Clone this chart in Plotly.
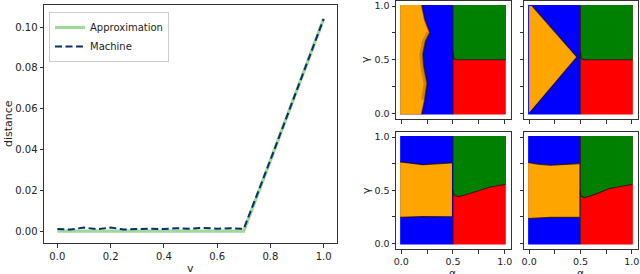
import plotly.graph_objects as go

# ---------------- left chart data ----------------
v_vals = [0.0, 0.05, 0.1, 0.15, 0.2, 0.25, 0.3, 0.35, 0.4, 0.45, 0.5, 0.55, 0.6, 0.65, 0.7,
          0.75, 0.8, 0.85, 0.9, 0.95, 1.0]
approx_vals = [0.0, 0.0, 0.0, 0.0, 0.0, 0.0, 0.0, 0.0, 0.0, 0.0, 0.0, 0.0, 0.0, 0.0, 0.0,
               0.0173, 0.0347, 0.052, 0.0693, 0.0867, 0.104]
machine_vals = [0.0010, 0.0008, 0.0018, 0.0009, 0.0018, 0.0008, 0.0010, 0.0012, 0.0010, 0.0014,
                0.0012, 0.0016, 0.0012, 0.0014, 0.0011, 0.0175, 0.0348, 0.0521, 0.0694, 0.0868, 0.1040]
left_xticks = [0.0, 0.2, 0.4, 0.6, 0.8, 1.0]
left_yticks = [0.0, 0.02, 0.04, 0.06, 0.08, 0.10]

# ---------------- decision-region data ----------------
lo, hi = -0.01, 1.01          # extent of sampled points
split_a = 0.5                 # alpha split between left/right classes
region_ticks = [0.0, 0.25, 0.5, 0.75, 1.0]
region_ticktext = ["0.0", "", "0.5", "", "1.0"]

# panel 1: orange / blue boundary (x as function of y, top to bottom)
p1_ob_y = [1.01, 1.0, 0.875, 0.75, 0.67, 0.55, 0.44, 0.28, 0.125, 0.0, -0.01]
p1_ob_x = [0.20, 0.20, 0.227, 0.276, 0.234, 0.21, 0.218, 0.25, 0.227, 0.20, 0.198]
# panels 1,2: green / red boundary
p12_gr_x = [0.5, 0.5, 0.506, 0.52, 0.54, 1.01]
p12_gr_y = [0.57, 0.54, 0.515, 0.503, 0.50, 0.50]
# panel 2: orange triangle
p2_tri_x = [0.0, 0.03, 0.464, 0.0]
p2_tri_y = [1.0, 1.0, 0.525, 0.0]
# panel 3: orange band + green/red boundary
p3_top_x = [lo, 0.08, 0.21, 0.37, 0.49]
p3_top_y = [0.766, 0.756, 0.74, 0.75, 0.756]
p3_bot_x = [lo, 0.21, 0.49]
p3_bot_y = [0.245, 0.252, 0.25]
p3_gr_x = [0.5, 0.5, 0.52, 0.55, 0.63, 0.76, 0.86, 1.01]
p3_gr_y = [0.5, 0.475, 0.45, 0.44, 0.46, 0.50, 0.53, 0.555]
# panel 4
p4_top_x = [lo, 0.08, 0.21, 0.37, 0.49]
p4_top_y = [0.76, 0.745, 0.735, 0.74, 0.75]
p4_bot_x = [lo, 0.21, 0.49]
p4_bot_y = [0.234, 0.244, 0.244]
p4_gr_x = [0.5, 0.5, 0.535, 0.58, 0.665, 0.78, 0.86, 1.01]
p4_gr_y = [0.5, 0.45, 0.43, 0.44, 0.47, 0.515, 0.53, 0.555]

C_OR, C_BL, C_GR, C_RD = "#ffa500", "#0000ff", "#008000", "#ff0000"
EDGE = "rgba(25,12,0,0.75)"

fig = go.Figure()

fig.add_trace(go.Scatter(x=v_vals, y=approx_vals, mode="lines", name="Approximation",
                         line=dict(color="#a1d99b", width=3.2), xaxis="x", yaxis="y"))
fig.add_trace(go.Scatter(x=v_vals, y=machine_vals, mode="lines", name="Machine",
                         line=dict(color="#08306b", width=2, dash="7px,3.5px"), xaxis="x", yaxis="y"))


def poly(xs, ys, color, ax):
    fig.add_trace(go.Scatter(x=xs, y=ys, mode="lines", fill="toself", fillcolor=color,
                             line=dict(width=0, color=color), hoverinfo="skip",
                             showlegend=False, xaxis="x" + ax, yaxis="y" + ax))


def edge(xs, ys, ax, color=EDGE, width=1.1):
    fig.add_trace(go.Scatter(x=xs, y=ys, mode="lines", line=dict(color=color, width=width),
                             hoverinfo="skip", showlegend=False, xaxis="x" + ax, yaxis="y" + ax))


def right_half(ax, gx, gy):
    poly([split_a, hi, hi, split_a, split_a], [lo, lo, hi, hi, lo], C_RD, ax)
    poly(gx + [hi, split_a], gy + [hi, hi], C_GR, ax)
    edge(gx, gy, ax)
    edge([split_a, split_a], [lo, hi], ax, width=0.9)


# panel 1
ax = "2"
poly([lo, split_a, split_a, lo, lo], [lo, lo, hi, hi, lo], C_BL, ax)
poly([lo] + p1_ob_x + [lo], [hi] + p1_ob_y + [lo], C_OR, ax)
edge([x - 0.012 for x in p1_ob_x[3:9]], p1_ob_y[3:9], ax, color="rgba(70,35,0,0.25)", width=4.5)
edge(p1_ob_x, p1_ob_y, ax, color="rgba(25,12,0,0.55)", width=1.6)
right_half(ax, p12_gr_x, p12_gr_y)

# panel 2
ax = "3"
poly([lo, split_a, split_a, lo, lo], [lo, lo, hi, hi, lo], C_BL, ax)
poly(p2_tri_x + [p2_tri_x[0]], p2_tri_y + [p2_tri_y[0]], C_OR, ax)
edge(p2_tri_x[1:], p2_tri_y[1:], ax)
right_half(ax, p12_gr_x, p12_gr_y)

# panels 3, 4
for ax, tx, ty, bx, by, gx, gy in [("4", p3_top_x, p3_top_y, p3_bot_x, p3_bot_y, p3_gr_x, p3_gr_y),
                                   ("5", p4_top_x, p4_top_y, p4_bot_x, p4_bot_y, p4_gr_x, p4_gr_y)]:
    poly([lo, split_a, split_a, lo, lo], [lo, lo, hi, hi, lo], C_BL, ax)
    poly(tx + bx[::-1], ty + by[::-1], C_OR, ax)
    edge(tx, ty, ax)
    edge(bx, by, ax)
    right_half(ax, gx, gy)

W, H = 640, 274
frame = dict(showline=True, mirror=True, linecolor="#333", linewidth=1, showgrid=False,
             zeroline=False, ticks="outside", ticklen=3.5, tickcolor="#333", automargin=False,
             tickfont=dict(family="DejaVu Sans", size=10, color="#222"))

lay = dict(
    width=W, height=H, margin=dict(l=0, r=0, t=0, b=0, autoexpand=False),
    paper_bgcolor="white", plot_bgcolor="white",
    font=dict(family="DejaVu Sans", size=10, color="#222"),
    showlegend=True,
    legend=dict(x=49 / W, y=1 - 12 / H, xanchor="left", yanchor="top", bgcolor="white",
                bordercolor="#cccccc", borderwidth=1, font=dict(size=10),
                tracegroupgap=0, itemwidth=30),
    xaxis=dict(frame, domain=[44 / W, 337 / W], range=[-0.05, 1.05], tickvals=left_xticks,
               tickformat=".1f", anchor="y"),
    yaxis=dict(frame, domain=[1 - 243 / H, 1 - 5 / H], range=[-0.0058, 0.1108],
               tickvals=left_yticks, tickformat=".2f", anchor="x"),
)

xd = {"L": [396 / W, 511 / W], "R": [524 / W, 638 / W]}
yd = {"T": [1 - 119 / H, 1 - 1 / H], "B": [1 - 249 / H, 1 - 132 / H]}
for i, (col, row) in zip([2, 3, 4, 5], [("L", "T"), ("R", "T"), ("L", "B"), ("R", "B")]):
    xa = dict(frame, domain=xd[col], range=[-0.05, 1.06], tickvals=region_ticks,
              ticktext=region_ticktext, showticklabels=(row == "B"), anchor="y%d" % i,
              tickfont=dict(family="DejaVu Sans", size=9.5, color="#222"))
    ya = dict(frame, domain=yd[row], range=[-0.053, 1.047], tickvals=region_ticks,
              ticktext=region_ticktext, showticklabels=(col == "L"), anchor="x%d" % i,
              tickfont=dict(family="DejaVu Sans", size=9.5, color="#222"))
    lay["xaxis%d" % i] = xa
    lay["yaxis%d" % i] = ya

fig.update_layout(**lay)

# axis titles placed where the reference draws them
titles = [
    ("v", 190, 268, 0, 11), ("distance", 8, 124, -90, 11),
    ("α", 452, 272.5, 0, 10.5), ("α", 580, 272.5, 0, 10.5),
    ("γ", 366, 60, -90, 11), ("γ", 366, 191, -90, 11),
]
for txt, px, py, rot, fs in titles:
    fig.add_annotation(text=txt, x=px / W, y=1 - py / H, xref="paper", yref="paper",
                       showarrow=False, textangle=rot, xanchor="center", yanchor="middle",
                       font=dict(family="DejaVu Sans", size=fs, color="#222"))

fig.write_html("out.html", config={"displayModeBar": False},
               post_script="document.body.style.margin='0';document.body.style.overflow='hidden';")
